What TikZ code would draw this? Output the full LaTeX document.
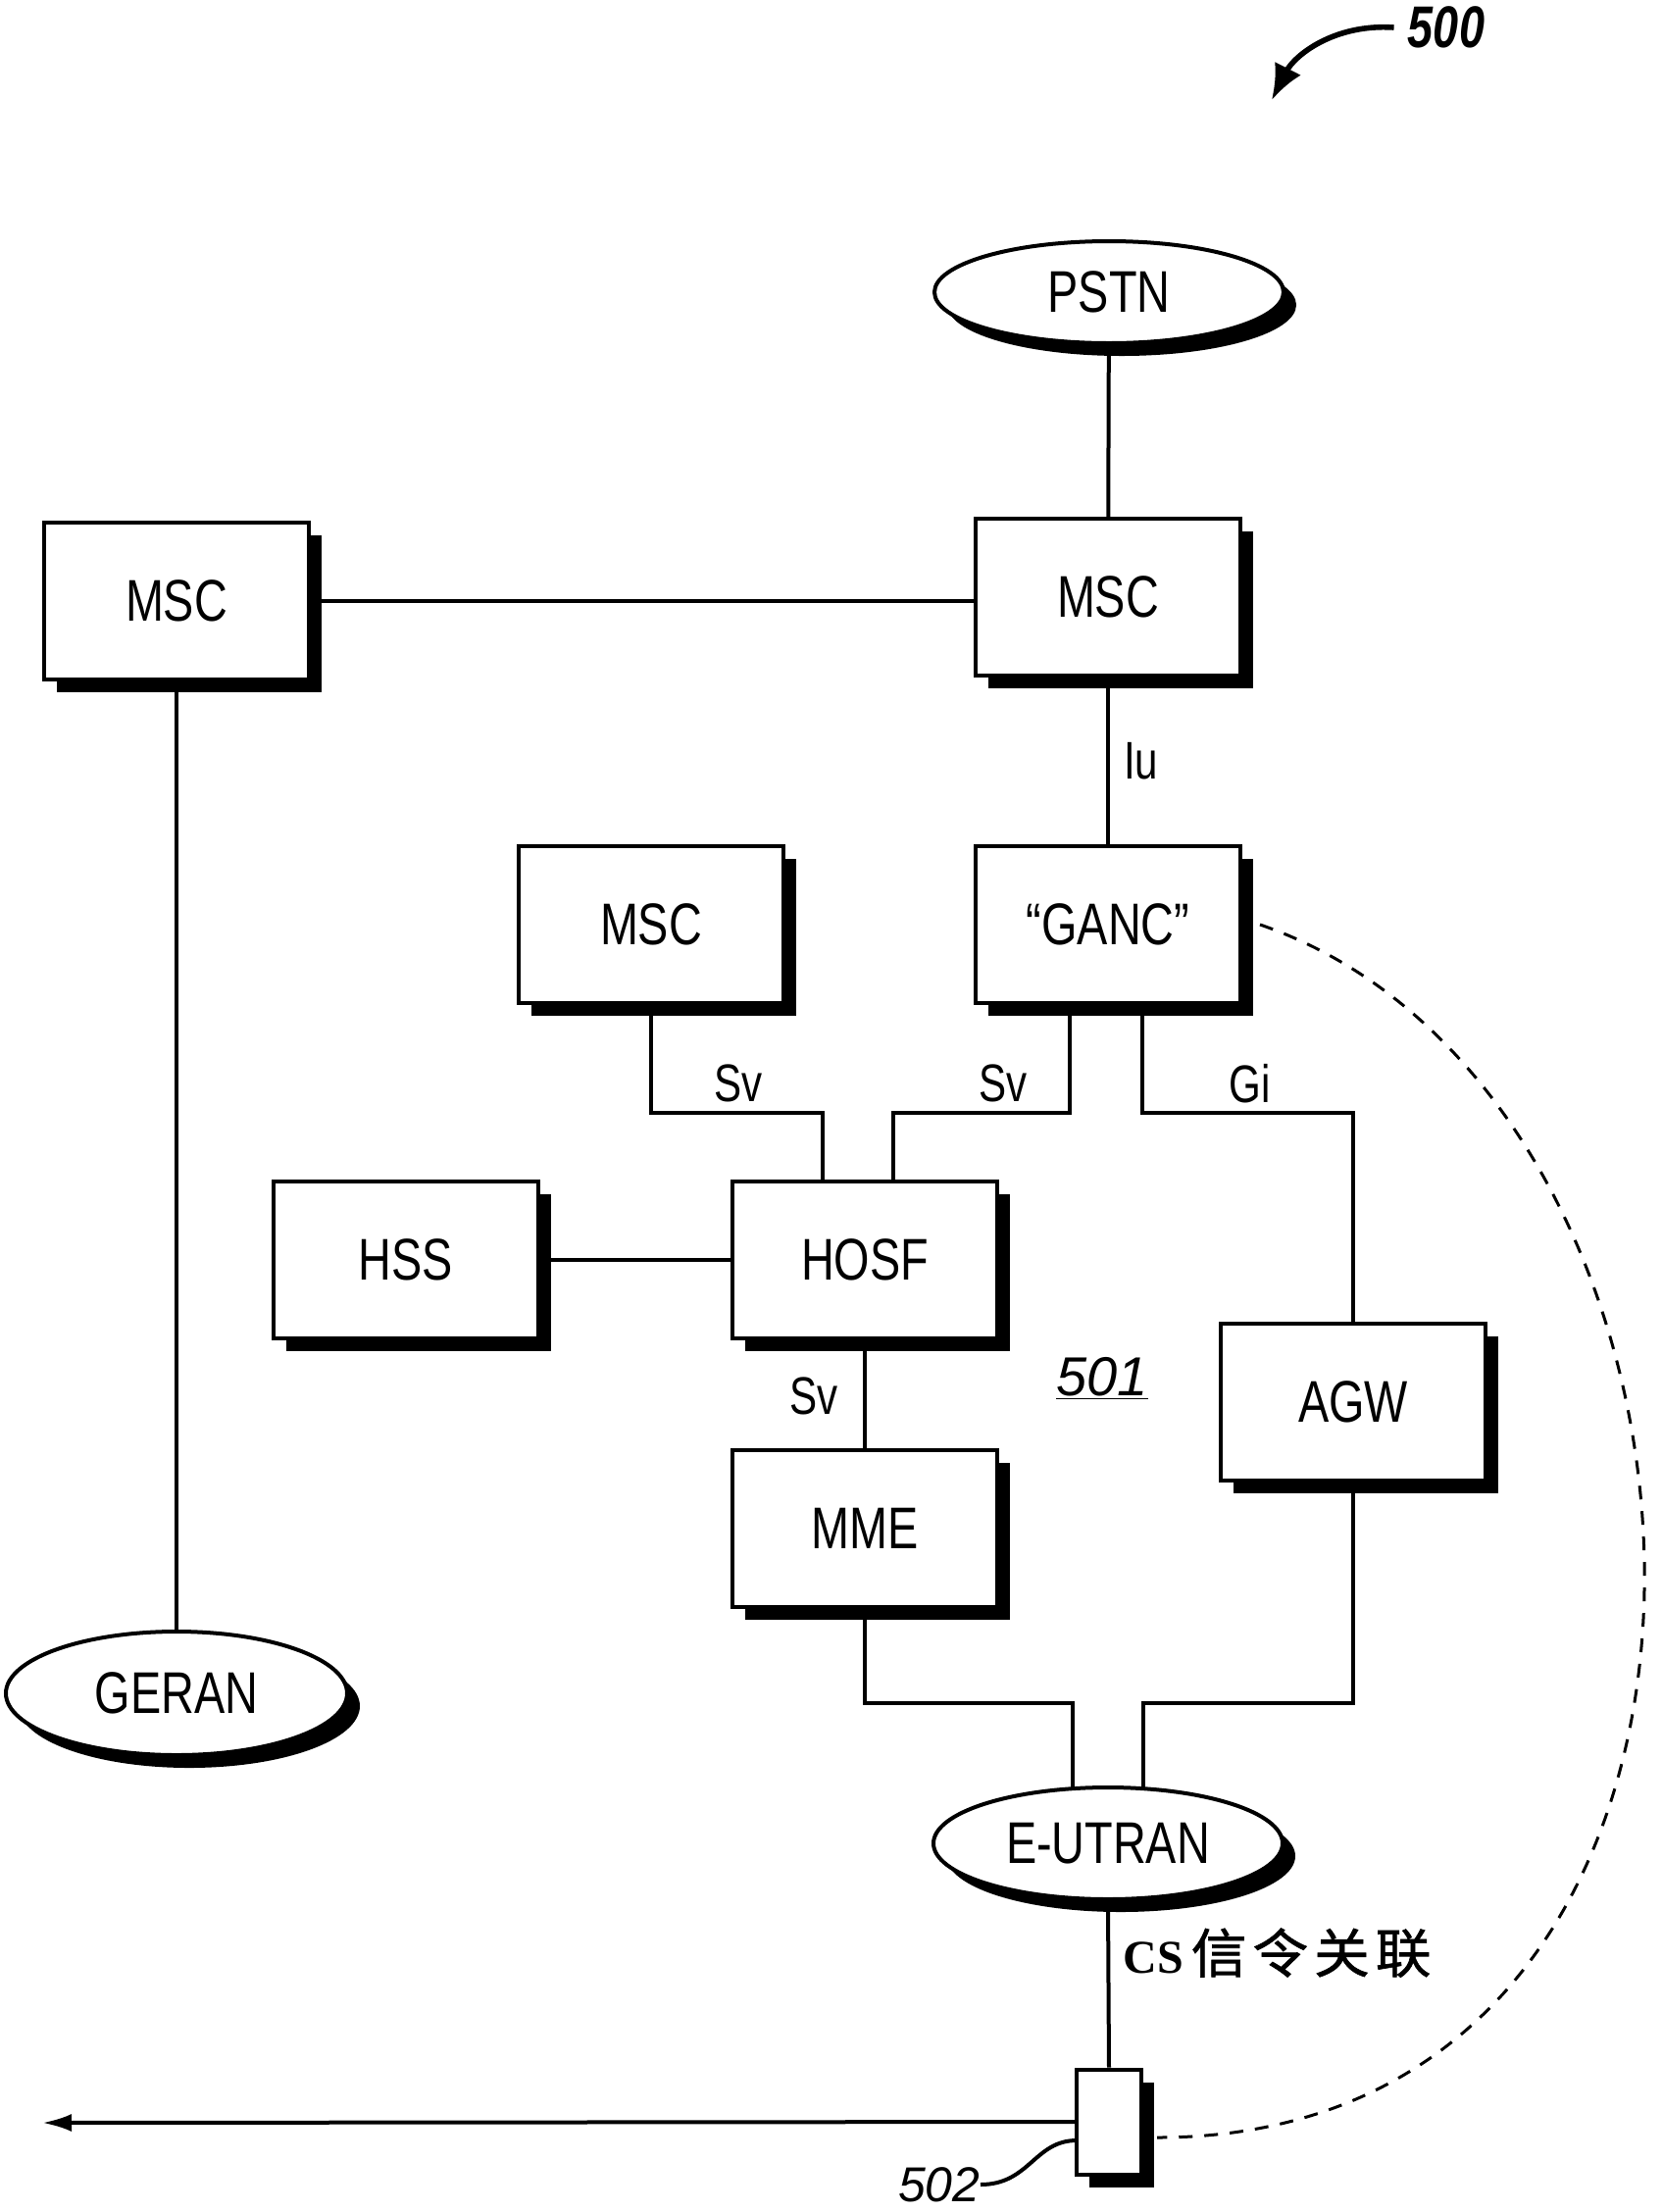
\documentclass[tikz,border=0pt]{standalone}
\usepackage{fontspec}
\setmainfont{Liberation Sans}
\newfontfamily\condf{Liberation Sans}[FakeStretch=0.78]
\newfontfamily\serifb{Liberation Serif}
\newfontfamily\cjkf{Noto Sans CJK SC}[FakeStretch=1.05, FakeBold=1.2]
\usetikzlibrary{shapes.geometric,shadows,arrows.meta,calc}
\begin{document}
\begin{tikzpicture}[x=0.5pt,y=-0.5pt,
  shad/.style={drop shadow={shadow xshift=6.5pt, shadow yshift=-6.5pt, fill=black, opacity=1}},
  box/.style={draw, line width=2pt, fill=white, minimum width=135pt, minimum height=80pt, inner sep=0pt,
    font=\condf\fontsize{30}{36}\selectfont, shad},
  oval/.style={ellipse, draw, line width=2pt, fill=white, minimum width=178pt, minimum height=54pt, inner sep=0pt,
    font=\condf\fontsize{30}{36}\selectfont, shad},
  conn/.style={line width=2pt},
  lbl/.style={font=\condf\fontsize{27}{32}\selectfont, inner sep=0pt}
]
\useasboundingbox (0,0) rectangle (1695,2256);

% nodes
\node[oval, minimum height=52pt] (pstn) at (1131,298) {PSTN};
\node[box] (mscL) at (180,613) {MSC};
\node[box] (mscR) at (1130,609) {MSC};
\node[box] (mscM) at (664,943) {MSC};
\node[box] (ganc) at (1130,943) {“GANC”};
\node[box] (hss) at (414,1285) {HSS};
\node[box] (hosf) at (882,1285) {HOSF};
\node[box] (mme) at (882,1559) {MME};
\node[box] (agw) at (1380,1430) {AGW};
\node[oval, minimum width=174pt, minimum height=63pt] (geran) at (180,1727) {GERAN};
\node[oval, minimum height=57pt] (eutran) at (1130,1880) {E-UTRAN};
\node[draw, line width=2pt, fill=white, minimum width=33pt, minimum height=53.5pt, inner sep=0pt,
  drop shadow={shadow xshift=6.5pt, shadow yshift=-6.5pt, fill=black, opacity=1}] (dev) at (1131,2164) {};

% reference labels
\node[inner sep=0pt, font=\condf\bfseries\itshape\fontsize{30}{36}\selectfont] (n500) at (1475,28) {500};
\node[inner sep=0pt, font=\itshape\fontsize{28}{34}\selectfont] (n501) at (1124,1406) {\underline{501}};
\node[inner sep=0pt, anchor=east, font=\itshape\fontsize{25}{30}\selectfont] (n502) at (1000,2228) {502};

% helper coordinates
\coordinate (ylev) at (0,1135);
\coordinate (ylev2) at (0,1737);
\coordinate (h1) at (839,1245);
\coordinate (h2) at (911,1245);
\coordinate (g1) at (1091,1023);
\coordinate (g2) at (1165,1023);
\coordinate (e1) at (1094,1825);
\coordinate (e2) at (1166,1825);
\coordinate (arrEnd) at (43,2165);
\coordinate (wv) at (1098,2183);

% connectors
\draw[conn] (pstn) -- (mscR);
\draw[conn] (mscL.east) -- (mscL.east -| mscR.west);
\draw[conn] (mscL.south) -- (geran.north);
\draw[conn] (mscR.south) -- (ganc.north) node[lbl, midway, anchor=west, xshift=7pt] (iu) {Iu};
\draw[conn] (mscM.south) |- (h1 |- ylev) -- (h1 |- hosf.north);
\draw[conn] (g1) |- (h2 |- ylev) -- (h2 |- hosf.north);
\draw[conn] (g2) |- (agw.north |- ylev) -- (agw.north);
\draw[conn] (hss.east) -- (hosf.west);
\draw[conn] (hosf.south) -- (mme.north);
\draw[conn] (mme.south) |- (e1 |- ylev2) -- (e1);
\draw[conn] (agw.south) |- (e2 |- ylev2) -- (e2);
\draw[conn] (eutran.south) -- (dev.north);
\draw[conn, -{Latex[length=15pt,width=9pt]}] (dev.west) -- (arrEnd);
\draw[conn] (n502.east) .. controls (1050,2228) and (1055,2183) .. (wv);
\draw[line width=1.5pt, dash pattern=on 7pt off 6pt] ([xshift=9pt]ganc.east) .. controls (1800,1120) and (1850,2180) .. ([shift={(7pt,-8pt)}]dev.east);
\draw[line width=2.8pt, -{Latex[length=18pt,width=15pt]}] ([xshift=-7pt]n500.west) .. controls (1360,24) and (1320,57) .. (1297,102);

% connector labels
\node[lbl] (sv1) at (753,1105) {Sv};
\node[lbl] (sv2) at (1023,1105) {Sv};
\node[lbl] (gi) at (1275,1105) {Gi};
\node[lbl] (sv3) at (830,1424) {Sv};
\node[anchor=base west, inner sep=0pt] (cs) at (1145,2012)
  {\serifb\bfseries\fontsize{24}{28}\selectfont CS\hspace{4pt}\mdseries\cjkf\fontsize{27}{30}\selectfont 信\hspace{3pt}令\hspace{3pt}关\hspace{3pt}联};
\end{tikzpicture}
\end{document}
